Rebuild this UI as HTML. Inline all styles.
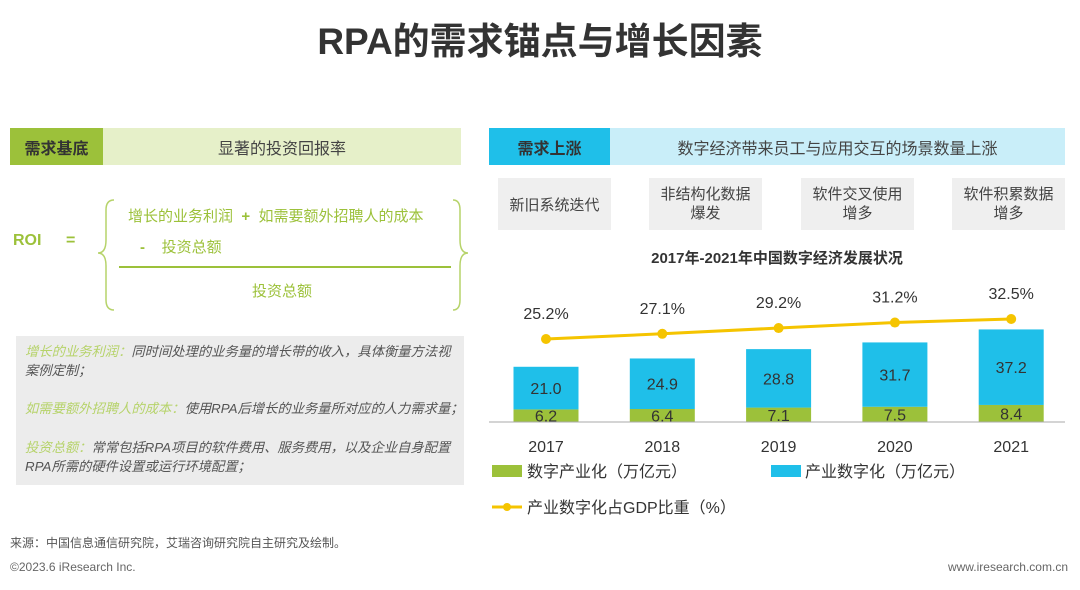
<!DOCTYPE html>
<html><head><meta charset="utf-8"><style>
body{margin:0;width:1080px;height:590px;background:#fff;position:relative;overflow:hidden;font-family:"Liberation Sans","Noto Sans CJK SC",sans-serif;}
.a{position:absolute;}
.c{display:flex;align-items:center;justify-content:center;text-align:center;}
</style></head><body>
<div class="a c" style="left:0;top:12px;width:1080px;height:52px;font-size:37px;font-weight:bold;color:#333;">RPA的需求锚点与增长因素</div>

<!-- left panel -->
<div class="a c" style="left:10px;top:128px;width:93px;height:37px;background:#9cc13a;font-size:16px;font-weight:bold;color:#333;">需求基底</div>
<div class="a c" style="left:103px;top:128px;width:358px;height:37px;background:#e6f0c9;font-size:16px;color:#444;">显著的投资回报率</div>
<div class="a" style="left:13px;top:232px;font-size:16px;font-weight:bold;color:#9cc13a;">ROI</div>
<div class="a" style="left:66px;top:232px;font-size:16px;font-weight:bold;color:#9cc13a;">=</div>
<svg class="a" style="left:0;top:0" width="480" height="320">
<path d="M114 200 Q106 200 106 210 L106 240 Q106 253 98 253 Q106 253 106 266 L106 300 Q106 310 114 310" fill="none" stroke="#b6d36a" stroke-width="1.5"/>
<path d="M453 200 Q460 200 460 210 L460 240 Q460 253 468 253 Q460 253 460 266 L460 300 Q460 310 453 310" fill="none" stroke="#b6d36a" stroke-width="1.5"/>
<line x1="119" y1="267" x2="451" y2="267" stroke="#9cc13a" stroke-width="2"/>
</svg>
<div class="a" style="left:128px;top:205px;font-size:15px;color:#9cc13a;">增长的业务利润 &nbsp;<b>+</b>&nbsp; 如需要额外招聘人的成本</div>
<div class="a" style="left:140px;top:236px;font-size:15px;color:#9cc13a;"><b>-</b>&nbsp;&nbsp;&nbsp;&nbsp;投资总额</div>
<div class="a" style="left:252px;top:280px;font-size:15px;color:#9cc13a;">投资总额</div>
<div class="a" style="left:16px;top:336px;width:448px;height:149px;background:#ececec;font-size:13.3px;font-style:italic;color:#555;line-height:19px;">
<div style="position:absolute;left:9px;top:6px;width:432px;"><span style="color:#b6d36a">增长的业务利润：</span>同时间处理的业务量的增长带的收入，具体衡量方法视案例定制；</div>
<div style="position:absolute;left:9px;top:63px;width:440px;white-space:nowrap;"><span style="color:#b6d36a">如需要额外招聘人的成本：</span>使用RPA后增长的业务量所对应的人力需求量；</div>
<div style="position:absolute;left:9px;top:102px;width:432px;"><span style="color:#b6d36a">投资总额：</span>常常包括RPA项目的软件费用、服务费用，以及企业自身配置RPA所需的硬件设置或运行环境配置；</div>
</div>

<!-- right panel -->
<div class="a c" style="left:489px;top:128px;width:121px;height:37px;background:#1fbfe9;font-size:16px;font-weight:bold;color:#333;">需求上涨</div>
<div class="a c" style="left:610px;top:128px;width:455px;height:37px;background:#c9eef9;font-size:16px;color:#444;">数字经济带来员工与应用交互的场景数量上涨</div>
<div class="a c" style="left:498px;top:178px;width:113px;height:52px;background:#efefef;font-size:15px;color:#444;">新旧系统迭代</div>
<div class="a c" style="left:649px;top:178px;width:113px;height:52px;background:#efefef;font-size:15px;color:#444;line-height:19px;">非结构化数据<br>爆发</div>
<div class="a c" style="left:801px;top:178px;width:113px;height:52px;background:#efefef;font-size:15px;color:#444;line-height:19px;">软件交叉使用<br>增多</div>
<div class="a c" style="left:952px;top:178px;width:113px;height:52px;background:#efefef;font-size:15px;color:#444;line-height:19px;">软件积累数据<br>增多</div>
<div class="a c" style="left:489px;top:245px;width:576px;height:24px;font-size:15px;font-weight:bold;color:#333;">2017年-2021年中国数字经济发展状况</div>

<svg id="chart" class="a" style="left:0;top:0" width="1080" height="590"></svg>

<div class="a" style="left:10px;top:534px;font-size:12px;color:#555;">来源：中国信息通信研究院，艾瑞咨询研究院自主研究及绘制。</div>
<div class="a" style="left:10px;top:560px;font-size:12px;color:#666;">©2023.6 iResearch Inc.</div>
<div class="a" style="right:12px;top:560px;font-size:12px;color:#666;">www.iresearch.com.cn</div>

<script>
const years=['2017','2018','2019','2020','2021'];
const industryDigitization=[21.0,24.9,28.8,31.7,37.2];
const digitalIndustrialization=[6.2,6.4,7.1,7.5,8.4];
const gdpShare=[25.2,27.1,29.2,31.2,32.5];
const NS='http://www.w3.org/2000/svg';
const svg=document.getElementById('chart');
const base=422,ppu=2.03,x0=546,step=116.3,bw=65;
const xs=i=>x0+i*step;
const ys=v=>base-v*ppu;
const yl=v=>339-(v-25.2)*2.74;
function mk(t,a){const e=document.createElementNS(NS,t);for(const k in a)e.setAttribute(k,a[k]);svg.appendChild(e);return e;}
function txt(x,y,s,size,fill){const e=mk('text',{x:x,y:y,'text-anchor':'middle','font-size':size,fill:fill,'font-family':'Liberation Sans, Noto Sans CJK SC, sans-serif'});e.textContent=s;return e;}
years.forEach((yr,i)=>{
 const g=digitalIndustrialization[i],b=industryDigitization[i],x=xs(i);
 const r1=mk('rect',{x:x-bw/2,y:ys(g),width:bw,height:g*ppu,fill:'#9cc13a'});
 
 
 const r2=mk('rect',{x:x-bw/2,y:ys(g+b),width:bw,height:b*ppu,fill:'#1fbfe9'});
 
 
 const t1=txt(x,ys(g/2)+6,g.toFixed(1),16,'#333');
 
 
 const t2=txt(x,ys(g+b/2)+6,b.toFixed(1),16,'#333');
 
 
 const t3=txt(x,452,yr,16,'#333');
 
 
});
const ax=mk('line',{x1:489,y1:base,x2:1065,y2:base,stroke:'#aaa','stroke-width':1});


const pl=mk('polyline',{points:gdpShare.map((v,i)=>xs(i)+','+yl(v)).join(' '),fill:'none',stroke:'#f5c400','stroke-width':3});


gdpShare.forEach((v,i)=>{
 const c=mk('circle',{cx:xs(i),cy:yl(v),r:5,fill:'#f5c400'});
 
 
 const t=txt(xs(i),yl(v)-20,v.toFixed(1)+'%',16,'#333');
 
 
});
// legend
let e=mk('rect',{x:492,y:465,width:30,height:12,fill:'#9cc13a'});


e=mk('text',{x:527,y:477,'font-size':16,fill:'#333','font-family':'Liberation Sans, Noto Sans CJK SC, sans-serif'});e.textContent='数字产业化（万亿元）';


e=mk('rect',{x:771,y:465,width:30,height:12,fill:'#1fbfe9'});


e=mk('text',{x:805,y:477,'font-size':16,fill:'#333','font-family':'Liberation Sans, Noto Sans CJK SC, sans-serif'});e.textContent='产业数字化（万亿元）';


e=mk('line',{x1:492,y1:507,x2:522,y2:507,stroke:'#f5c400','stroke-width':3});


e=mk('circle',{cx:507,cy:507,r:4,fill:'#f5c400'});


e=mk('text',{x:527,y:513,'font-size':16,fill:'#333','font-family':'Liberation Sans, Noto Sans CJK SC, sans-serif'});e.textContent='产业数字化占GDP比重（%）';


</script>
</body></html>
